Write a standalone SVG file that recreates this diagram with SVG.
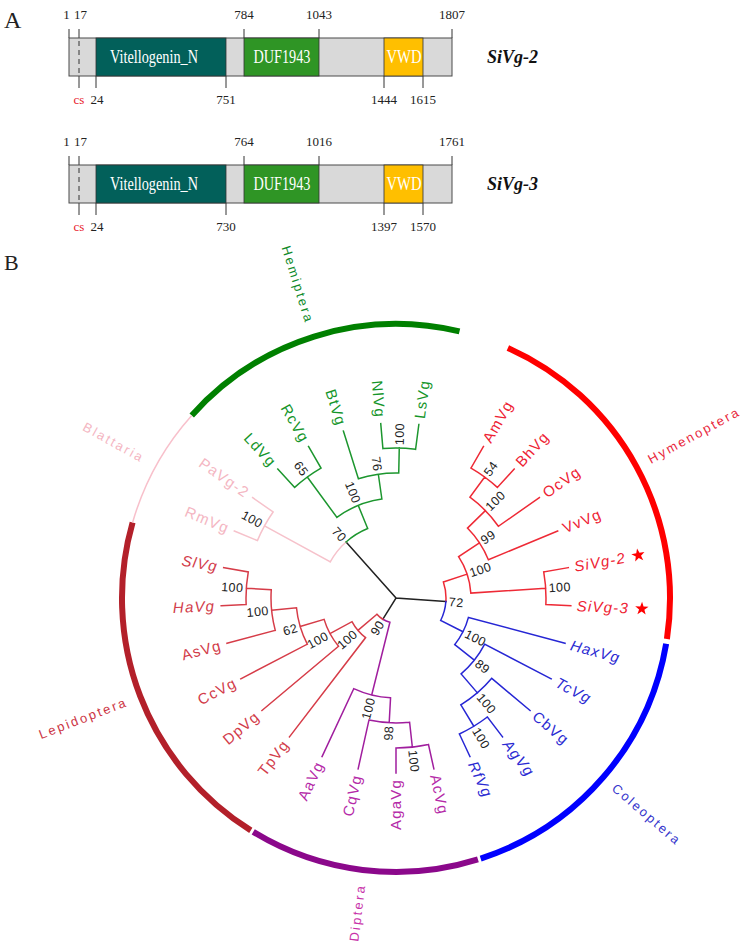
<svg xmlns="http://www.w3.org/2000/svg" width="748" height="945" viewBox="0 0 748 945">
<style>
.ser{font-family:"Liberation Serif","Times New Roman",serif;fill:#222}
.num{font-size:13px;text-anchor:middle}
.dom{font-size:19px;fill:#fff;text-anchor:middle}
.name{font-size:18px;font-weight:bold;font-style:italic;fill:#111}
.bar{fill:#d9d9d9;stroke:#4a4a4a;stroke-width:1}
.tick{stroke:#333;stroke-width:1}
.lf{font-family:"Liberation Sans",Arial,sans-serif;font-size:15px;letter-spacing:1.2px}
.bs{font-family:"Liberation Sans",Arial,sans-serif;font-size:12.5px;fill:#222;letter-spacing:0.4px}
.cl{font-family:"Liberation Sans",Arial,sans-serif;font-size:13px;letter-spacing:2.3px}
.s{text-anchor:start}.e{text-anchor:end}.it{font-style:italic}
.br{fill:none;stroke-width:1.5;stroke-linecap:square}
.arc{fill:none;stroke-width:6}
</style>
<defs>
<polygon id="star" points="0,-7 1.65,-2.27 6.66,-2.16 2.66,0.87 4.11,5.66 0,2.8 -4.11,5.66 -2.66,0.87 -6.66,-2.16 -1.65,-2.27" fill="#ff0000"/>
</defs>

<!-- Panel A -->
<text class="ser" x="4" y="28" font-size="24">A</text>
<g id="sivg2-domains">
<g class="tick">
<line x1="69" y1="29" x2="69" y2="38"/><line x1="79" y1="29" x2="79" y2="38"/><line x1="244" y1="29" x2="244" y2="38"/><line x1="319" y1="29" x2="319" y2="38"/><line x1="452" y1="29" x2="452" y2="38"/>
<line x1="79" y1="76" x2="79" y2="88"/><line x1="96" y1="76" x2="96" y2="88"/><line x1="226" y1="76" x2="226" y2="88"/><line x1="384" y1="76" x2="384" y2="88"/><line x1="423" y1="76" x2="423" y2="88"/>
</g>
<rect class="bar" x="69" y="38" width="383" height="38"/>
<rect x="96" y="38" width="130" height="38" fill="#02605a" stroke="#333" stroke-width="0.8"/>
<rect x="244" y="38" width="75" height="38" fill="#2f9525" stroke="#333" stroke-width="0.8"/>
<rect x="384" y="38" width="39" height="38" fill="#ffbf00" stroke="#333" stroke-width="0.8"/>
<line x1="79" y1="41" x2="79" y2="74" stroke="#333" stroke-width="1" stroke-dasharray="5,4"/>
<text class="ser dom" x="154" y="63" textLength="88" lengthAdjust="spacingAndGlyphs">Vitellogenin_N</text>
<text class="ser dom" x="282" y="63" textLength="57" lengthAdjust="spacingAndGlyphs">DUF1943</text>
<text class="ser dom" x="404" y="63" textLength="35" lengthAdjust="spacingAndGlyphs">VWD</text>
<g class="ser num">
<text x="66.5" y="19">1</text><text x="80.5" y="19">17</text><text x="244" y="19">784</text><text x="319" y="19">1043</text><text x="452" y="19">1807</text>
<text x="79" y="104" style="fill:#e8202a">cs</text><text x="97" y="104">24</text><text x="226" y="104">751</text><text x="384" y="104">1444</text><text x="423" y="104">1615</text>
</g>
<text class="ser name" x="487" y="63">SiVg-2</text>
</g>
<g id="sivg3-domains">
<g class="tick">
<line x1="69" y1="156" x2="69" y2="165"/><line x1="79" y1="156" x2="79" y2="165"/><line x1="244" y1="156" x2="244" y2="165"/><line x1="319" y1="156" x2="319" y2="165"/><line x1="452" y1="156" x2="452" y2="165"/>
<line x1="79" y1="203" x2="79" y2="215"/><line x1="96" y1="203" x2="96" y2="215"/><line x1="226" y1="203" x2="226" y2="215"/><line x1="384" y1="203" x2="384" y2="215"/><line x1="423" y1="203" x2="423" y2="215"/>
</g>
<rect class="bar" x="69" y="165" width="383" height="38"/>
<rect x="96" y="165" width="130" height="38" fill="#02605a" stroke="#333" stroke-width="0.8"/>
<rect x="244" y="165" width="75" height="38" fill="#2f9525" stroke="#333" stroke-width="0.8"/>
<rect x="384" y="165" width="39" height="38" fill="#ffbf00" stroke="#333" stroke-width="0.8"/>
<line x1="79" y1="168" x2="79" y2="201" stroke="#333" stroke-width="1" stroke-dasharray="5,4"/>
<text class="ser dom" x="154" y="190" textLength="88" lengthAdjust="spacingAndGlyphs">Vitellogenin_N</text>
<text class="ser dom" x="282" y="190" textLength="57" lengthAdjust="spacingAndGlyphs">DUF1943</text>
<text class="ser dom" x="404" y="190" textLength="35" lengthAdjust="spacingAndGlyphs">VWD</text>
<g class="ser num">
<text x="66.5" y="146">1</text><text x="80.5" y="146">17</text><text x="244" y="146">764</text><text x="319" y="146">1016</text><text x="452" y="146">1761</text>
<text x="79" y="231" style="fill:#e8202a">cs</text><text x="97" y="231">24</text><text x="226" y="231">730</text><text x="384" y="231">1397</text><text x="423" y="231">1570</text>
</g>
<text class="ser name" x="487" y="190">SiVg-3</text>
</g>

<!-- Panel B -->
<text class="ser" x="4" y="270" font-size="22">B</text>

<g id="clade-arcs">
<path class="arc" stroke="#008000" d="M191.73,415.38 A274,274 0 0 1 459.51,331.45"/>
<path class="arc" stroke="#ff0000" d="M507.87,347.89 A274,274 0 0 1 666.93,638.96"/>
<path class="arc" stroke="#0000ff" d="M666.16,643.70 A274,274 0 0 1 480.67,858.60"/>
<path class="arc" stroke="#8b088b" d="M477.93,859.45 A274,274 0 0 1 253.25,831.89"/>
<path class="arc" stroke="#b3202a" d="M250.81,830.35 A274,274 0 0 1 132.60,522.49"/>
<path fill="none" stroke="#f8c0cb" stroke-width="1.5" d="M132.60,522.49 A274,274 0 0 1 191.73,415.38"/>
</g>

<g id="connectors">
<path class="br" stroke="#222" d="M396,598 L346.09,542.02 M396,598 L445.87,601.54 M396,598 L382.81,619.24"/>
<path class="br" stroke="#f6c2cb" d="M330.25,561.92 A75,75 0 0 1 346.09,542.02 M330.25,561.92 L264.5,525.85 M257.41,540.59 A150,150 0 0 1 273.12,511.96 M257.41,540.59 L234.32,531.03 M273.12,511.96 L252.64,497.62"/>
<path class="br" stroke="#1c962e" d="M346.09,542.02 A75,75 0 0 1 367.68,528.55 M367.68,528.55 L358.24,505.40 M336.87,517.36 A100,100 0 0 1 381.87,499.0 M336.87,517.36 L307.30,477.04 M294.66,487.40 A150,150 0 0 1 321,468.1 M294.66,487.40 L277.77,468.97 M321,468.1 L308.5,446.45 M381.87,499.0 L378.34,474.25 M358.41,478.79 A125,125 0 0 1 398.73,473.02 M358.41,478.79 L343.38,431.10 M398.73,473.02 L399.27,448.03 M382.92,448.57 A150,150 0 0 1 415.58,449.29 M382.92,448.57 L380.74,423.66 M415.58,449.29 L418.84,424.50"/>
<path class="br" stroke="#ee2a36" d="M443.39,582.06 A50,50 0 0 1 445.87,601.54 M443.39,582.06 L467.09,574.09 M458.59,556.67 A75,75 0 0 1 470.84,593.09 M458.59,556.67 L479.45,542.90 M467.49,528.08 A100,100 0 0 1 488.39,559.73 M488.39,559.73 L557.68,531.03 M467.49,528.08 L485.36,510.60 M469.91,497.20 A125,125 0 0 1 498.4,526.3 M498.4,526.3 L539.36,497.62 M469.91,497.20 L484.70,477.04 M471,468.1 A150,150 0 0 1 497.34,487.40 M471,468.1 L483.5,446.45 M497.34,487.40 L514.23,468.97 M470.84,593.09 L545.69,588.19 M543.72,571.96 A150,150 0 0 1 545.85,604.54 M543.72,571.96 L568.34,567.62 M545.85,604.54 L570.83,605.63"/>
<path class="br" stroke="#2626d4" d="M445.87,601.54 A50,50 0 0 1 440.66,620.48 M440.66,620.48 L462.99,631.72 M468.44,617.41 A75,75 0 0 1 454.75,644.62 M468.44,617.41 L565.03,643.29 M454.75,644.62 L474.33,660.16 M484.70,644.17 A100,100 0 0 1 461.12,673.90 M484.70,644.17 L551.23,678.80 M461.12,673.90 L477.40,692.88 M491.75,678.35 A125,125 0 0 1 460.85,704.86 M491.75,678.35 L530.05,710.49 M460.85,704.86 L473.82,726.24 M487.32,717.01 A150,150 0 0 1 459.39,733.95 M487.32,717.01 L502.54,736.85 M459.39,733.95 L469.96,756.60"/>
<path class="br" stroke="#a01e9e" d="M389.92,622.25 A25,25 0 0 1 382.81,619.24 M389.92,622.25 L371.70,695.0 M390.55,697.85 A100,100 0 0 1 353.74,688.63 M353.74,688.63 L322.04,756.60 M390.55,697.85 L389.19,722.81 M409.61,722.26 A125,125 0 0 1 368.95,720.04 M368.95,720.04 L358.13,768.85 M409.61,722.26 L412.34,747.12 M428.46,744.45 A150,150 0 0 1 396,748 M428.46,744.45 L433.87,768.85 M396,748 L396,773"/>
<path class="br" stroke="#d63c48" d="M382.81,619.24 A25,25 0 0 1 376.96,614.20 M376.96,614.20 L357.92,630.40 M365.56,637.67 A50,50 0 0 1 351.97,621.69 M365.56,637.67 L289.46,736.85 M351.97,621.69 L329.95,633.54 M338.55,646.21 A75,75 0 0 1 324.11,619.38 M338.55,646.21 L261.95,710.49 M324.11,619.38 L300.15,626.51 M307.30,644.17 A100,100 0 0 1 296.48,607.80 M307.30,644.17 L240.77,678.80 M296.48,607.80 L271.60,610.25 M275.26,630.35 A125,125 0 0 1 271.26,589.82 M275.26,630.35 L226.97,643.29 M271.26,589.82 L246.31,588.19 M246.15,604.54 A150,150 0 0 1 248.28,571.96 M246.15,604.54 L221.17,605.63 M248.28,571.96 L223.66,567.62"/>
</g>

<g id="bootstrap">
<text class="bs e" dy=".35em" transform="translate(305.53,474.62) rotate(53.75)">65</text>
<text class="bs s" dy=".35em" transform="translate(399.34,445.04) rotate(-88.75)">100</text>
<text class="bs e" dy=".35em" transform="translate(377.91,471.28) rotate(81.875)">76</text>
<text class="bs e" dy=".35em" transform="translate(357.11,502.62) rotate(67.81)">100</text>
<text class="bs e" dy=".35em" transform="translate(261.86,524.41) rotate(28.75)">100</text>
<text class="bs e" dy=".35em" transform="translate(344.09,539.78) rotate(48.28)">70</text>
<text class="bs s" dy=".35em" transform="translate(486.47,474.62) rotate(-53.75)">54</text>
<text class="bs s" dy=".35em" transform="translate(487.51,508.50) rotate(-44.375)">100</text>
<text class="bs s" dy=".35em" transform="translate(481.95,541.25) rotate(-33.44)">99</text>
<text class="bs s" dy=".35em" transform="translate(548.68,587.99) rotate(-3.75)">100</text>
<text class="bs s" dy=".35em" transform="translate(469.93,573.13) rotate(-18.59)">100</text>
<text class="bs s" dy=".35em" transform="translate(448.87,601.76) rotate(4.06)">72</text>
<text class="bs s" dy=".35em" transform="translate(465.67,633.07) rotate(26.72)">100</text>
<text class="bs s" dy=".35em" transform="translate(476.69,662.03) rotate(38.44)">89</text>
<text class="bs s" dy=".35em" transform="translate(479.35,695.15) rotate(49.375)">100</text>
<text class="bs s" dy=".35em" transform="translate(475.37,728.8) rotate(58.75)">100</text>
<text class="bs s" dy=".35em" transform="translate(412.66,750.10) rotate(83.75)">100</text>
<text class="bs e" dy=".35em" transform="translate(389.02,725.81) rotate(-86.875)">98</text>
<text class="bs e" dy=".35em" transform="translate(370.97,697.91) rotate(-75.94)">100</text>
<text class="bs e" dy=".35em" transform="translate(381.23,621.79) rotate(-58.16)">90</text>
<text class="bs e" dy=".35em" transform="translate(355.64,632.34) rotate(-40.39)">100</text>
<text class="bs e" dy=".35em" transform="translate(327.31,634.96) rotate(-28.28)">100</text>
<text class="bs e" dy=".35em" transform="translate(297.27,627.37) rotate(-16.56)">62</text>
<text class="bs e" dy=".35em" transform="translate(268.61,610.54) rotate(-5.625)">100</text>
<text class="bs e" dy=".35em" transform="translate(243.32,587.99) rotate(3.75)">100</text>
</g>

<g id="hemiptera-leaves" fill="#15952a">
<g id="LdVg"><text class="lf e" dy=".35em" transform="translate(273.72,464.55) rotate(47.5)">LdVg</text></g>
<g id="RcVg"><text class="lf e" dy=".35em" transform="translate(305.5,441.25) rotate(60)">RcVg</text></g>
<g id="BtVg"><text class="lf e" dy=".35em" transform="translate(341.57,425.38) rotate(72.5)">BtVg</text></g>
<g id="NlVg"><text class="lf e" dy=".35em" transform="translate(380.22,417.69) rotate(85)">NlVg</text></g>
<g id="LsVg"><text class="lf s" dy=".35em" transform="translate(419.62,418.56) rotate(-82.5)">LsVg</text></g>
</g>
<g id="hymenoptera-leaves" fill="#ee2233">
<g id="AmVg"><text class="lf s" dy=".35em" transform="translate(486.5,441.25) rotate(-60)">AmVg</text></g>
<g id="BhVg"><text class="lf s" dy=".35em" transform="translate(518.28,464.55) rotate(-47.5)">BhVg</text></g>
<g id="OcVg"><text class="lf s" dy=".35em" transform="translate(544.28,494.18) rotate(-35)">OcVg</text></g>
<g id="VvVg"><text class="lf s" dy=".35em" transform="translate(563.23,528.73) rotate(-22.5)">VvVg</text></g>
<g id="SiVg-2"><text class="lf s it" dy=".35em" transform="translate(574.25,566.58) rotate(-10)">SiVg-2</text><use href="#star" transform="translate(638.26,555.28) rotate(-10)"/></g>
<g id="SiVg-3"><text class="lf s it" dy=".35em" transform="translate(576.82,605.89) rotate(2.5)">SiVg-3</text><use href="#star" transform="translate(641.77,608.73) rotate(2.5)"/></g>
</g>
<g id="coleoptera-leaves" fill="#2a2ad2">
<g id="HaxVg"><text class="lf s it" dy=".35em" transform="translate(570.83,644.84) rotate(15)">HaxVg</text></g>
<g id="TcVg"><text class="lf s it" dy=".35em" transform="translate(556.55,681.57) rotate(27.5)">TcVg</text></g>
<g id="CbVg"><text class="lf s" dy=".35em" transform="translate(534.65,714.35) rotate(40)">CbVg</text></g>
<g id="AgVg"><text class="lf s it" dy=".35em" transform="translate(506.19,741.61) rotate(52.5)">AgVg</text></g>
<g id="RfVg"><text class="lf s it" dy=".35em" transform="translate(472.49,762.04) rotate(65)">RfVg</text></g>
</g>
<g id="diptera-leaves" fill="#b52aa8">
<g id="AcVg"><text class="lf s" dy=".35em" transform="translate(435.17,774.71) rotate(77.5)">AcVg</text></g>
<g id="AgaVg"><text class="lf e" dy=".35em" transform="translate(396,779) rotate(-90)">AgaVg</text></g>
<g id="CqVg"><text class="lf e" dy=".35em" transform="translate(356.83,774.71) rotate(-77.5)">CqVg</text></g>
<g id="AaVg"><text class="lf e" dy=".35em" transform="translate(319.51,762.04) rotate(-65)">AaVg</text></g>
</g>
<g id="lepidoptera-leaves" fill="#d23c4a">
<g id="TpVg"><text class="lf e" dy=".35em" transform="translate(285.81,741.61) rotate(-52.5)">TpVg</text></g>
<g id="DpVg"><text class="lf e" dy=".35em" transform="translate(257.35,714.35) rotate(-40)">DpVg</text></g>
<g id="CcVg"><text class="lf e" dy=".35em" transform="translate(235.45,681.57) rotate(-27.5)">CcVg</text></g>
<g id="AsVg"><text class="lf e" dy=".35em" transform="translate(221.17,644.84) rotate(-15)">AsVg</text></g>
<g id="HaVg"><text class="lf e it" dy=".35em" transform="translate(215.18,605.89) rotate(-2.5)">HaVg</text></g>
<g id="SlVg"><text class="lf e it" dy=".35em" transform="translate(217.75,566.58) rotate(10)">SlVg</text></g>
</g>
<g id="blattaria-leaves" fill="#f4b6c2">
<g id="RmVg"><text class="lf e" dy=".35em" transform="translate(228.77,528.73) rotate(22.5)">RmVg</text></g>
<g id="PaVg-2"><text class="lf e" dy=".35em" transform="translate(247.72,494.18) rotate(35)">PaVg-2</text></g>
</g>

<g id="clade-labels">
<text class="cl e" fill="#0f8a2a" dy=".35em" transform="translate(309.89,323.19) rotate(72.6)">Hemiptera</text>
<text class="cl s" fill="#e8283c" dy=".35em" transform="translate(648.75,459.90) rotate(-28.65)">Hymenoptera</text>
<text class="cl s" fill="#3535cc" dy=".35em" transform="translate(614.02,786.18) rotate(40.8)">Coleoptera</text>
<text class="cl e" fill="#c832aa" dy=".35em" transform="translate(360.9,883.84) rotate(-83)">Diptera</text>
<text class="cl e" fill="#cc3444" dy=".35em" transform="translate(127.12,701.22) rotate(-21)">Lepidoptera</text>
<text class="cl e" fill="#f4b6c2" dy=".35em" transform="translate(143.86,458.81) rotate(28.9)">Blattaria</text>
</g>
</svg>
